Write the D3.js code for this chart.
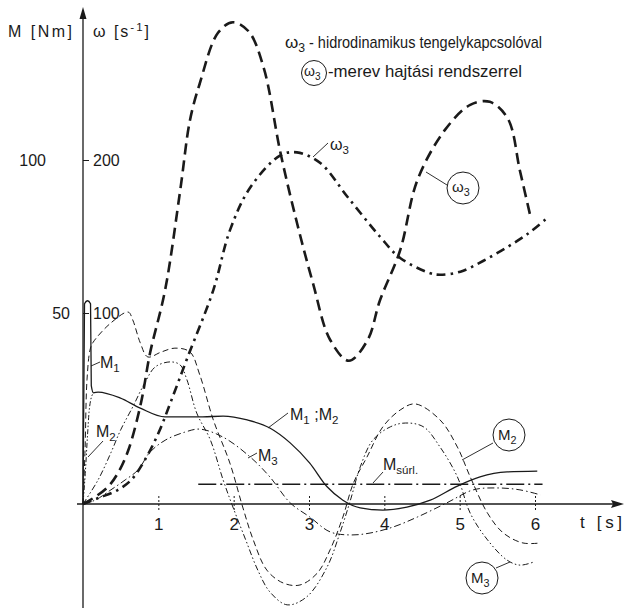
<!DOCTYPE html>
<html>
<head>
<meta charset="utf-8">
<script src="https://cdn.jsdelivr.net/npm/d3@7"></script>
<style>
  body { margin: 0; background: #fff; }
  svg { display: block; }
  text { font-family: "Liberation Sans", Arial, sans-serif; fill: #1a1a1a; }
</style>
</head>
<body>
<div id="chart"></div>
<script>
// tick values
const tTicks = [1, 2, 3, 4, 5, 6];
const mTicks = [50, 100];
const wTicks = [100, 200];

// omega_3, hydrodynamic coupling [1/s]
const tW3h = [0, 0.2, 0.46, 0.64, 0.82, 1.0, 1.17, 1.39, 1.73, 1.95, 2.22, 2.62, 2.84, 3.15, 3.51, 3.94, 4.21, 4.61, 4.74, 5.01, 5.31, 5.63, 5.91, 6.16];
const w3h  = [0, 3.1, 7.3, 12.6, 23, 37, 54, 77, 115, 154, 182, 203, 205, 198, 176, 150, 136, 126, 125, 127, 134, 143, 152, 162];

// (omega_3), rigid drive [1/s]
const tW3r = [0, 0.16, 0.33, 0.46, 0.6, 0.77, 0.89, 1.09, 1.29, 1.42, 1.55, 1.79, 1.99, 2.2, 2.4, 2.62, 2.84, 3.05, 3.28, 3.53, 3.78, 3.94, 4.21, 4.44, 4.81, 5.14, 5.4, 5.64, 5.8, 5.94];
const w3r  = [0, 3.7, 8.9, 16, 28, 53, 79, 115, 180, 226, 250, 283, 290, 284, 260, 205, 159, 120, 86, 75, 86, 108, 141, 187, 220, 236, 238, 227, 193, 163];

// M1 (= M2 after start), hydrodynamic [Nm]
const tM1 = [0, 0.02, 0.06, 0.1, 0.11, 0.14, 0.2, 0.49, 0.76, 1.09, 1.59, 1.86, 2.18, 2.48, 2.75, 3.01, 3.24, 3.45, 3.68, 3.98, 4.3, 4.61, 4.97, 5.27, 5.63, 6.03];
const M1  = [0, 53, 54, 53, 31, 29.1, 29.3, 27.8, 25.1, 22.8, 22.8, 23.0, 22.0, 19.9, 16.0, 10.7, 4.5, 1.0, -1.0, -1.6, -0.8, 1.0, 4.7, 7.1, 8.4, 8.6];

// M2 start, hydrodynamic
const tM2h = [0, 0.03, 0.06, 0.08, 0.1, 0.14];
const M2h  = [0, 8, 18, 24, 27, 29.1];

// M3, hydrodynamic
const tM3h = [0, 0.16, 0.37, 0.56, 0.73, 0.89, 1.1, 1.35, 1.55, 1.86, 2.22, 2.48, 2.75, 3.01, 3.28, 3.55, 3.81, 4.12, 4.44, 4.83, 5.18, 5.5, 5.8, 6.07];
const M3h  = [0, 1.0, 3.7, 6.3, 8.9, 13.6, 16.8, 18.8, 19.6, 17.5, 12.3, 7.1, 0.3, -3.4, -7.3, -8.1, -7.6, -6.0, -3.4, 0.3, 3.7, 4.2, 3.7, 2.4];

// (M2), rigid drive
const tM2r = [0, 0.027, 0.053, 0.093, 0.13, 0.37, 0.6, 0.66, 0.76, 0.86, 1.04, 1.22, 1.42, 1.55, 1.73, 1.95, 2.12, 2.26, 2.44, 2.66, 2.88, 3.11, 3.28, 3.45, 3.59, 3.77, 3.98, 4.21, 4.41, 4.74, 4.97, 5.14, 5.37, 5.58, 5.84, 6.07];
const M2r  = [0, 14.1, 32.5, 40.3, 42.2, 47.4, 50.3, 48.2, 42.2, 38.5, 39.8, 40.8, 39.8, 33.8, 22.0, 10.7, -0.8, -9.4, -17.3, -20.7, -21.2, -18.1, -12.0, -3.4, 5.5, 12.3, 20.2, 24.6, 26.2, 22.0, 14.9, 7.1, -2.4, -7.6, -10.2, -10.2];

// (M3), rigid drive
const tM3r = [0, 0.2, 0.37, 0.5, 0.66, 0.82, 0.96, 1.16, 1.29, 1.38, 1.51, 1.69, 1.86, 1.99, 2.16, 2.32, 2.48, 2.71, 2.97, 3.24, 3.41, 3.55, 3.68, 3.85, 4.08, 4.28, 4.52, 4.74, 4.97, 5.14, 5.37, 5.63, 5.8, 5.98];
const M3r  = [0, 6.3, 13.4, 19.4, 25.4, 31.7, 35.9, 37.2, 36.4, 32.5, 23.8, 16.8, 6.3, -0.8, -9.4, -17.3, -23.0, -26.4, -24.3, -16.5, -7.6, 1.0, 9.7, 16.8, 20.2, 21.2, 20.2, 14.9, 7.1, -2.4, -9.4, -14.7, -16.0, -15.2];

// friction torque
const tMs = [1.53, 6.1];
const Ms  = [5.2, 5.2];

const W = 626, H = 612;
const ink = '#1a1a1a';
const font = '"Liberation Sans", Arial, sans-serif';

const svg = d3.select('#chart').append('svg')
    .attr('width', W)
    .attr('height', H);

const x = d3.scaleLinear().domain([0, 6]).range([83, 535]);
// the drawing's vertical scale is not uniform, so use its tick positions
const yM = d3.scaleLinear().domain([0, 50, 100]).range([504, 313, 160]);
const yW = d3.scaleLinear().domain([0, 100, 200]).range([504, 313, 160]);

// axes
svg.append('line')
    .attr('x1', x(0)).attr('x2', x(0))
    .attr('y1', 608).attr('y2', 16)
    .attr('stroke', ink).attr('stroke-width', 1.3);
svg.append('path')
    .attr('d', `M${x(0)},7 L${x(0) - 3.5},19 L${x(0) + 3.5},19 Z`)
    .attr('fill', ink);
svg.append('line')
    .attr('x1', 77).attr('x2', 614)
    .attr('y1', yM(0)).attr('y2', yM(0))
    .attr('stroke', ink).attr('stroke-width', 1.6);
svg.append('path')
    .attr('d', `M624,${yM(0)} L611,${yM(0) - 4} L613,${yM(0)} L611,${yM(0) + 4} Z`)
    .attr('fill', ink);

const gx = svg.append('g')
    .attr('transform', `translate(0,${yM(0)})`)
    .call(d3.axisBottom(x).tickValues(tTicks).tickSize(7).tickPadding(7).tickFormat(d3.format('d')));
gx.select('.domain').remove();
gx.selectAll('.tick line').attr('y1', -8).attr('stroke-dasharray', '2,2').attr('stroke', ink);
gx.selectAll('.tick text').style('font-size', '17px');

const gyl = svg.append('g')
    .attr('transform', `translate(${x(0)},0)`)
    .call(d3.axisLeft(yM).tickValues(mTicks).tickSize(6).tickPadding(7));
gyl.select('.domain').remove();
gyl.selectAll('.tick line').attr('x2', 6).attr('stroke', ink);
// the upper label sits further out in the drawing
gyl.selectAll('.tick text').style('font-size', '16px').attr('x', d => d === 100 ? -37 : -13);

const gyr = svg.append('g')
    .attr('transform', `translate(${x(0)},0)`)
    .call(d3.axisRight(yW).tickValues(wTicks).tickSize(0).tickPadding(10));
gyr.select('.domain').remove();
gyr.selectAll('.tick text').style('font-size', '16px');

svg.selectAll('g').attr('font-family', font);

// curves
function draw(ts, vs, y, width, dash, curve) {
    const line = d3.line()
        .x(d => x(d[0]))
        .y(d => y(d[1]))
        .curve(curve || d3.curveCatmullRom.alpha(0.5));
    svg.append('path')
        .datum(d3.zip(ts, vs))
        .attr('d', line)
        .attr('fill', 'none')
        .attr('stroke', ink)
        .attr('stroke-width', width)
        .attr('stroke-dasharray', dash);
}

draw(tMs, Ms, yM, 1.5, '18,4,2,4');
draw(tM3h, M3h, yM, 1, '7,3,1.5,3');
draw(tM2r, M2r, yM, 1, '6,3.5');
draw(tM3r, M3r, yM, 1, '6,2.5,1.5,2.5,1.5,2.5');
draw(tM2h, M2h, yM, 1, '5,2,1.5,2,1.5,2', d3.curveMonotoneX);
draw(tM1, M1, yM, 1.3, null, d3.curveMonotoneX);
draw(tW3h, w3h, yW, 2.6, '9,5,2.5,5');
draw(tW3r, w3r, yW, 2.6, '11,6');

// labels
function label(px, py, parts, size) {
    const t = svg.append('text')
        .attr('x', px).attr('y', py)
        .style('font-size', size + 'px')
        .attr('font-family', font);
    let shift = 0;
    parts.forEach(p => {
        const s = t.append('tspan').text(p.s);
        const want = p.sub ? 4 : (p.sup ? -6 : 0);
        if (want !== shift) s.attr('dy', want - shift);
        shift = want;
        if (p.sub || p.sup) s.style('font-size', (size * 0.72) + 'px');
    });
    return t;
}

function leader(x1, y1, x2, y2) {
    svg.append('line')
        .attr('x1', x1).attr('y1', y1).attr('x2', x2).attr('y2', y2)
        .attr('stroke', ink).attr('stroke-width', 0.9);
}

function ring(cx, cy, r) {
    svg.append('circle')
        .attr('cx', cx).attr('cy', cy).attr('r', r)
        .attr('fill', 'none').attr('stroke', ink).attr('stroke-width', 1);
}

label(8, 37, [{s: 'M [Nm]'}], 16).attr('textLength', 64);
label(93, 37, [{s: 'ω [s'}, {s: '-1', sup: true}, {s: ']'}], 16).attr('textLength', 56);
label(580, 528, [{s: 't [s]'}], 17).attr('textLength', 42);

// legend
label(285, 48, [{s: 'ω'}, {s: '3', sub: true}], 17);
label(309, 48, [{s: '- hidrodinamikus tengelykapcsolóval'}], 17)
    .attr('textLength', 233).attr('lengthAdjust', 'spacingAndGlyphs');
ring(314, 73, 12.5);
label(304, 76, [{s: 'ω'}, {s: '3', sub: true}], 14);
label(328, 77, [{s: '-merev hajtási rendszerrel'}], 17)
    .attr('textLength', 194).attr('lengthAdjust', 'spacingAndGlyphs');

// curve labels
label(330, 150, [{s: 'ω'}, {s: '3', sub: true}], 16);
leader(313, 157, 328, 143);

ring(463, 188, 16);
label(452, 192, [{s: 'ω'}, {s: '3', sub: true}], 15);
leader(447, 185, 426, 172);

label(100, 368, [{s: 'M'}, {s: '1', sub: true}], 16);
leader(91, 366, 100, 362);

label(96, 437, [{s: 'M'}, {s: '2', sub: true}], 16);
leader(88, 457, 103, 441);

label(290, 420, [{s: 'M'}, {s: '1', sub: true}, {s: ' ;M'}, {s: '2', sub: true}], 16);
leader(268, 428, 288, 413);

label(258, 461, [{s: 'M'}, {s: '3', sub: true}], 16);
leader(248, 458, 257, 453);

label(383, 470, [{s: 'M'}, {s: 'súrl.', sub: true}], 16);
leader(373, 483, 383, 472);

ring(509, 435, 16);
label(498, 440, [{s: 'M'}, {s: '2', sub: true}], 15);
leader(493, 443, 462, 460);

ring(482, 578, 16);
label(471, 583, [{s: 'M'}, {s: '3', sub: true}], 15);
leader(496, 568, 510, 562);
</script>
</body>
</html>
